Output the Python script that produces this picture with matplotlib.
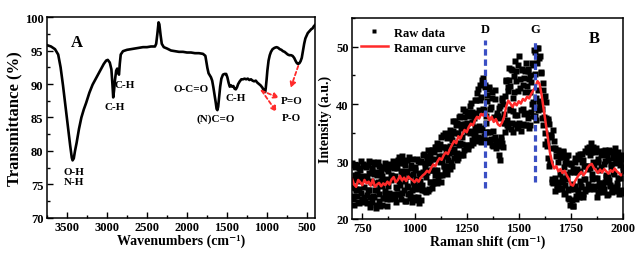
import numpy as np
import matplotlib
matplotlib.use("Agg")
import matplotlib.pyplot as plt
from matplotlib.ticker import MultipleLocator

plt.rcParams['font.family'] = ['Liberation Serif', 'DejaVu Serif']
plt.rcParams['font.weight'] = 'bold'

# ---------------- FTIR data (panel A) ----------------
ftir_wn = [3750, 3700, 3650, 3610, 3580, 3550, 3520, 3490, 3460, 3440, 3430, 3415, 3400, 3380,
           3350, 3320, 3290, 3260, 3220, 3180, 3130, 3080, 3040, 3010, 2990, 2965, 2945, 2932,
           2922, 2912, 2900, 2885, 2872, 2860, 2850, 2840, 2828, 2800, 2750, 2700, 2650, 2600,
           2550, 2500, 2450, 2400, 2385, 2370, 2355, 2345, 2330, 2315, 2290, 2250, 2200, 2150,
           2100, 2050, 2000, 1950, 1900, 1850, 1800, 1770, 1760, 1745, 1730, 1715, 1700, 1685,
           1670, 1655, 1640, 1630, 1620, 1610, 1598, 1585, 1570, 1550, 1530, 1510, 1495, 1480,
           1465, 1450, 1435, 1420, 1405, 1390, 1375, 1360, 1340, 1320, 1300, 1280, 1260, 1240,
           1220, 1200, 1180, 1160, 1140, 1120, 1100, 1080, 1060, 1045, 1030, 1022, 1015, 1005,
           995, 980, 965, 950, 930, 905, 880, 860, 840, 820, 800, 780, 760, 740, 720, 700, 680,
           660, 640, 625, 610, 595, 580, 565, 550, 535, 520, 505, 490, 475, 460, 445, 430, 415, 400]
ftir_t = [95.8, 95.6, 95.2, 94.4, 92.5, 89.8, 86.8, 83.9, 80.8, 79.0, 78.6, 78.9, 80.0, 81.2,
          83.3, 85.0, 86.2, 87.2, 88.7, 89.9, 91.0, 92.1, 93.0, 93.5, 93.6, 93.2, 92.2, 90.0,
          88.0, 89.0, 90.6, 92.0, 92.3, 91.7, 91.4, 93.0, 94.4, 94.9, 95.1, 95.2, 95.3, 95.4,
          95.5, 95.5, 95.6, 95.6, 96.0, 97.5, 99.2, 98.9, 97.3, 96.0, 95.5, 95.3, 95.0, 94.9,
          94.8, 94.8, 94.7, 94.7, 94.6, 94.6, 94.5, 94.2, 93.5, 92.4, 91.6, 91.3, 91.0, 90.5,
          89.5, 88.4, 87.2, 86.3, 86.1, 86.6, 88.0, 89.6, 90.8, 91.4, 91.5, 91.5, 91.0, 90.2,
          89.6, 89.8, 89.6, 89.7, 89.3, 89.2, 89.5, 90.0, 90.4, 90.7, 90.7, 90.8, 90.7, 90.8,
          90.6, 90.7, 90.5, 90.4, 90.5, 90.2, 90.0, 89.8, 89.5, 89.2, 88.9, 88.8, 89.4, 90.6,
          92.0, 93.5, 94.3, 94.8, 95.2, 95.4, 95.5, 95.4, 95.2, 95.1, 94.9, 94.8, 94.6, 94.4,
          94.3, 94.3, 94.2, 93.9, 93.4, 93.1, 93.0, 93.1, 93.4, 93.9, 95.0, 96.0, 96.8, 97.2,
          97.6, 97.8, 98.0, 98.2, 98.3, 98.6, 98.8]

# band labels: (text, wavenumber, transmittance)
ftir_labels = [("O-H\nN-H", 3412, 76.2), ("C-H", 2900, 86.7), ("C-H", 2775, 90.0),
               ("O-C=O", 1954, 89.3), ("(N)C=O", 1637, 84.9), ("C-H", 1387, 88.0),
               ("P=O", 691, 87.6), ("P-O", 700, 85.0)]
# arrows: (start wn, start T, end wn, end T)
ftir_arrows = [(1066, 89.0, 846, 87.9), (1066, 89.0, 879, 85.8), (609, 92.7, 704, 89.4)]

# ---------------- Raman data (panel B) ----------------
raman_x = np.arange(700, 2001, 10)
raman_curve = [27.0, 26.0, 25.6, 26.8, 26.4, 25.9, 26.8, 26.2, 26.5, 25.8,
               26.9, 25.6, 26.0, 26.3, 25.7, 26.2, 25.9, 26.5, 26.0, 26.9,
               27.3, 26.4, 26.8, 27.5, 26.7, 27.2, 26.6, 27.4, 27.0, 26.8,
               26.4, 26.9, 26.5, 27.2, 27.6, 27.9, 28.4, 28.1, 28.9, 29.5,
               29.2, 30.0, 30.6, 30.3, 31.1, 31.6, 31.3, 32.2, 32.9, 33.6,
               33.2, 34.4, 34.0, 34.8, 35.5, 35.1, 36.0, 36.6, 36.3, 37.2,
               37.8, 37.5, 38.3, 38.0, 38.6, 37.9, 37.2, 37.8, 36.9, 37.4,
               36.5, 36.2, 36.8, 37.8, 39.6, 40.6, 40.1, 39.5, 40.2, 39.8,
               40.5, 40.1, 40.9, 40.6, 41.3, 41.0, 41.8, 42.4, 43.0, 44.0,
               43.5, 41.5, 39.0, 36.5, 34.0, 31.5, 29.8, 28.8, 29.2, 28.3,
               28.7, 28.0, 28.4, 27.6, 27.0, 26.0, 25.8, 26.6, 27.2, 27.8,
               28.2, 27.6, 28.1, 29.0, 29.4, 29.6, 28.9, 28.5, 28.0, 28.6,
               28.1, 28.7, 28.3, 27.9, 28.5, 28.2, 28.8, 28.3, 28.0, 27.6,
               27.9]

raw_x = np.arange(700, 2001, 4)
raw_y = [29.8, 23.5, 26.8, 24.0, 29.1, 25.2, 27.8, 23.0, 28.8, 25.3, 26.6, 30.1, 23.4, 27.2, 25.6, 29.3, 23.2, 27.2, 24.1, 29.4, 25.0, 28.0, 22.1, 26.5, 28.9,
         24.0, 27.8, 29.5, 25.0, 22.4, 28.2, 26.4, 24.4, 29.3, 22.2, 26.7, 25.7, 28.8, 23.7, 29.8, 24.8, 26.8, 23.4, 28.4, 24.6, 29.3, 23.6, 26.8, 29.0, 23.7,
         28.9, 23.7, 29.5, 25.6, 27.0, 24.3, 30.8, 26.0, 29.7, 23.5, 27.5, 30.1, 25.1, 26.7, 29.4, 23.2, 28.2, 25.5, 30.8, 24.5, 27.5, 28.9, 22.9, 27.9, 26.0,
         23.4, 29.0, 27.0, 25.2, 30.1, 22.7, 27.9, 26.6, 30.1, 25.1, 28.2, 31.3, 24.8, 29.8, 27.3, 30.6, 24.8, 28.6, 31.2, 26.5, 30.4, 25.4, 32.0, 28.6, 32.6,
         26.6, 30.4, 33.2, 26.9, 32.2, 29.9, 33.0, 26.5, 30.9, 34.6, 29.2, 32.5, 28.5, 34.4, 31.0, 34.6, 29.2, 32.7, 28.7, 34.7, 31.6, 37.0, 30.6, 35.0, 33.3,
         36.3, 30.3, 35.0, 32.8, 38.0, 31.3, 35.9, 34.3, 31.2, 37.7, 35.6, 38.8, 32.9, 36.8, 32.7, 38.7, 35.3, 39.7, 32.9, 36.9, 38.3, 34.2, 40.8, 36.1, 38.4,
         42.0, 34.2, 39.0, 43.4, 35.5, 41.3, 34.1, 44.5, 38.9, 35.2, 43.4, 36.7, 40.6, 33.4, 42.7, 35.2, 39.2, 34.0, 41.0, 32.7, 37.8, 34.2, 40.9, 32.3, 38.5,
         32.7, 39.3, 30.3, 37.5, 34.2, 40.8, 32.6, 38.2, 41.5, 36.8, 44.1, 36.4, 42.3, 46.3, 38.9, 43.1, 35.7, 46.0, 38.8, 42.2, 47.5, 36.5, 44.0, 38.1, 46.9,
         48.3, 36.4, 42.8, 35.4, 46.0, 39.2, 44.6, 36.3, 42.1, 47.2, 38.5, 45.8, 35.8, 42.2, 45.1, 38.6, 47.1, 40.3, 49.5, 38.0, 45.3, 37.3, 49.7, 42.4, 48.1,
         48.3, 39.8, 45.6, 37.5, 42.4, 37.8, 41.5, 33.0, 37.6, 32.7, 37.0, 29.2, 34.7, 29.6, 34.7, 26.5, 35.5, 26.5, 32.3, 24.9, 31.0, 25.9, 32.1, 26.4, 30.8,
         25.3, 31.0, 27.2, 31.9, 24.3, 29.7, 25.9, 31.0, 27.9, 23.6, 29.8, 25.2, 22.4, 29.5, 26.1, 22.3, 28.2, 25.8, 30.6, 24.0, 28.2, 24.2, 30.4, 26.7, 31.4,
         25.5, 31.3, 23.8, 29.2, 26.9, 31.9, 25.2, 29.2, 31.6, 25.3, 31.1, 28.9, 33.2, 26.9, 29.9, 25.2, 31.6, 27.1, 31.8, 23.9, 29.9, 26.2, 31.9, 25.5, 29.0,
         31.2, 24.7, 29.5, 26.5, 32.1, 27.7, 24.2, 30.3, 26.8, 31.7, 25.7, 29.1, 24.7, 30.6, 27.8, 32.4, 25.6, 29.8, 25.8, 31.1, 24.3, 29.4, 27.2, 30.5, 24.6, 28.4]

raw_x2 = np.arange(702, 2000, 4)
raw_y2 = [25.6, 29.4, 22.5, 27.7, 25.0, 29.4, 24.0, 27.5, 22.7, 28.6, 24.6, 22.9, 27.5, 29.5, 23.8, 26.9, 29.1, 22.7, 27.5, 25.1, 30.1, 23.9, 26.6, 23.0, 28.5,
          30.0, 23.9, 26.3, 21.9, 27.7, 25.0, 29.9, 23.2, 25.9, 28.4, 22.4, 27.4, 23.6, 29.1, 24.4, 26.9, 22.3, 28.7, 25.8, 29.6, 23.5, 27.6, 23.8, 27.4, 30.1,
          24.3, 27.5, 22.9, 28.9, 25.4, 30.3, 26.6, 24.4, 28.3, 30.9, 24.6, 27.4, 29.8, 23.2, 28.3, 25.7, 30.2, 24.4, 27.4, 23.6, 29.4, 25.1, 30.4, 26.4, 23.9,
          28.5, 23.3, 30.4, 25.8, 23.9, 28.0, 30.0, 23.3, 27.9, 26.0, 31.1, 25.1, 29.0, 24.7, 30.9, 28.1, 32.0, 25.2, 29.7, 26.5, 32.1, 28.5, 26.2, 31.7, 27.6,
          32.6, 28.5, 26.3, 32.6, 31.0, 27.7, 34.2, 30.1, 27.6, 32.6, 29.2, 35.0, 31.7, 27.8, 34.1, 30.2, 31.5, 35.5, 29.9, 33.8, 29.2, 35.4, 32.2, 37.1, 30.9,
          31.5, 36.8, 30.7, 37.7, 33.3, 31.1, 36.6, 33.1, 39.1, 32.0, 36.5, 32.9, 38.5, 35.2, 32.2, 37.9, 35.0, 40.2, 33.8, 38.7, 33.3, 37.5, 35.2, 40.7, 33.8,
          33.5, 42.6, 36.2, 40.7, 33.4, 44.2, 35.9, 39.1, 34.4, 42.9, 37.9, 33.7, 41.6, 35.2, 42.9, 33.5, 39.5, 32.8, 42.1, 35.3, 34.0, 42.4, 33.3, 38.0, 33.5,
          37.9, 31.2, 39.6, 33.8, 41.1, 33.2, 40.0, 36.7, 35.1, 44.2, 37.2, 43.0, 36.0, 44.2, 39.2, 46.2, 36.8, 41.1, 35.1, 44.9, 38.1, 45.8, 36.0, 42.3, 35.9,
          36.8, 44.3, 38.9, 46.2, 36.6, 43.4, 38.2, 45.7, 36.3, 43.1, 46.2, 37.6, 44.4, 36.4, 43.8, 40.0, 38.0, 46.9, 39.3, 49.1, 41.1, 47.2, 39.0, 49.8, 40.6,
          40.1, 45.4, 39.1, 43.7, 36.4, 40.9, 35.0, 40.3, 33.5, 37.4, 30.7, 36.6, 29.8, 34.3, 26.9, 32.3, 26.2, 33.5, 27.1, 32.1, 25.3, 30.0, 25.7, 31.5, 27.8,
          30.8, 25.4, 31.6, 26.5, 29.0, 24.6, 30.6, 27.0, 31.1, 25.1, 23.5, 28.1, 29.5, 23.3, 22.2, 28.7, 25.2, 30.0, 23.5, 28.7, 25.1, 31.1, 23.8, 28.3, 25.7,
          29.9, 24.4, 30.3, 27.0, 24.8, 29.3, 32.3, 26.1, 28.7, 32.5, 25.8, 31.6, 27.8, 25.4, 32.5, 29.4, 25.7, 32.4, 27.1, 24.7, 30.5, 28.6, 24.8, 31.4, 26.3,
          25.9, 31.9, 25.2, 30.1, 27.3, 31.1, 27.3, 24.4, 32.0, 26.0, 29.5, 25.1, 30.9, 28.2, 31.9, 24.8, 30.3, 26.2, 31.6, 27.1, 24.9, 29.9, 31.2, 25.1, 29.0]

peak_names = ["D", "G"]
peak_pos = [1340, 1580]
peak_line_ranges = [(25.4, 51.1), (26.4, 51.4)]

# ---------------- figure ----------------
fig = plt.figure(figsize=(6.35, 2.55), dpi=100)
axA = fig.add_axes([0.0740, 0.1412, 0.4220, 0.7882])
axB = fig.add_axes([0.5543, 0.1373, 0.4268, 0.7882])

def style(ax):
    for s in ax.spines.values():
        s.set_linewidth(1.1)
    ax.tick_params(which='both', direction='in', top=False, right=False,
                   labelsize=9, width=1.0, pad=2.5)
    ax.tick_params(which='major', length=4)
    ax.tick_params(which='minor', length=2)
    for lab in ax.get_xticklabels() + ax.get_yticklabels():
        lab.set_fontweight('bold')

# Panel A
axA.plot(ftir_wn, ftir_t, color='black', lw=1.9, solid_joinstyle='round')
axA.set_xlim(3750, 400)
axA.set_ylim(70, 100)
axA.xaxis.set_major_locator(MultipleLocator(500))
axA.xaxis.set_minor_locator(MultipleLocator(250))
axA.yaxis.set_major_locator(MultipleLocator(5))
axA.yaxis.set_minor_locator(MultipleLocator(2.5))
style(axA)
axA.set_xlabel('Wavenumbers (cm\u207b\u00b9)', fontsize=10, fontweight='bold', labelpad=0)
axA.set_ylabel('Transmittance (%)', fontsize=12, fontweight='bold', labelpad=2)
axA.text(3380, 96.2, 'A', fontsize=12, fontweight='bold', ha='center', va='center')
for txt, xx, yy in ftir_labels:
    axA.text(xx, yy, txt, fontsize=8, fontweight='bold', ha='center', va='center',
             linespacing=1.1)
for x0, y0, x1, y1 in ftir_arrows:
    axA.annotate('', xy=(x1, y1), xytext=(x0, y0),
                 arrowprops=dict(arrowstyle='-|>', linestyle=(0, (2, 1.5)), color='#ff2a2a',
                                 lw=1.3, mutation_scale=8, shrinkA=0, shrinkB=0))

# Panel B
axB.plot(raw_x, raw_y, 's', color='black', ms=4.0, mec='none', label='Raw data')
axB.plot(raw_x2, raw_y2, 's', color='black', ms=4.0, mec='none')
axB.plot(raman_x, raman_curve, color='#ff2a2a', lw=1.8, label='Raman curve')
for name, xp, (y0, y1) in zip(peak_names, peak_pos, peak_line_ranges):
    axB.plot([xp, xp], [y0, y1], color='#3a4fc4', lw=2.3, ls=(0, (2, 1.2)))
    axB.text(xp, 53.0, name, fontsize=9, fontweight='bold', ha='center', va='center')
axB.set_xlim(700, 2000)
axB.set_ylim(20, 55)
axB.xaxis.set_major_locator(MultipleLocator(250))
axB.xaxis.set_minor_locator(MultipleLocator(125))
axB.yaxis.set_major_locator(MultipleLocator(10))
axB.yaxis.set_minor_locator(MultipleLocator(5))
style(axB)
axB.set_xlabel('Raman shift (cm\u207b\u00b9)', fontsize=10, fontweight='bold', labelpad=0)
axB.set_ylabel('Intensity (a.u.)', fontsize=10, fontweight='bold', labelpad=3)
axB.text(1860, 51.5, 'B', fontsize=12, fontweight='bold', ha='center', va='center')
axB.legend(loc='upper left', frameon=False, handlelength=2.2, markerscale=0.85,
           borderaxespad=0.3, handletextpad=0.5, labelspacing=0.25,
           prop={'weight': 'bold', 'size': 9})

fig.savefig('out.png', dpi=100)
